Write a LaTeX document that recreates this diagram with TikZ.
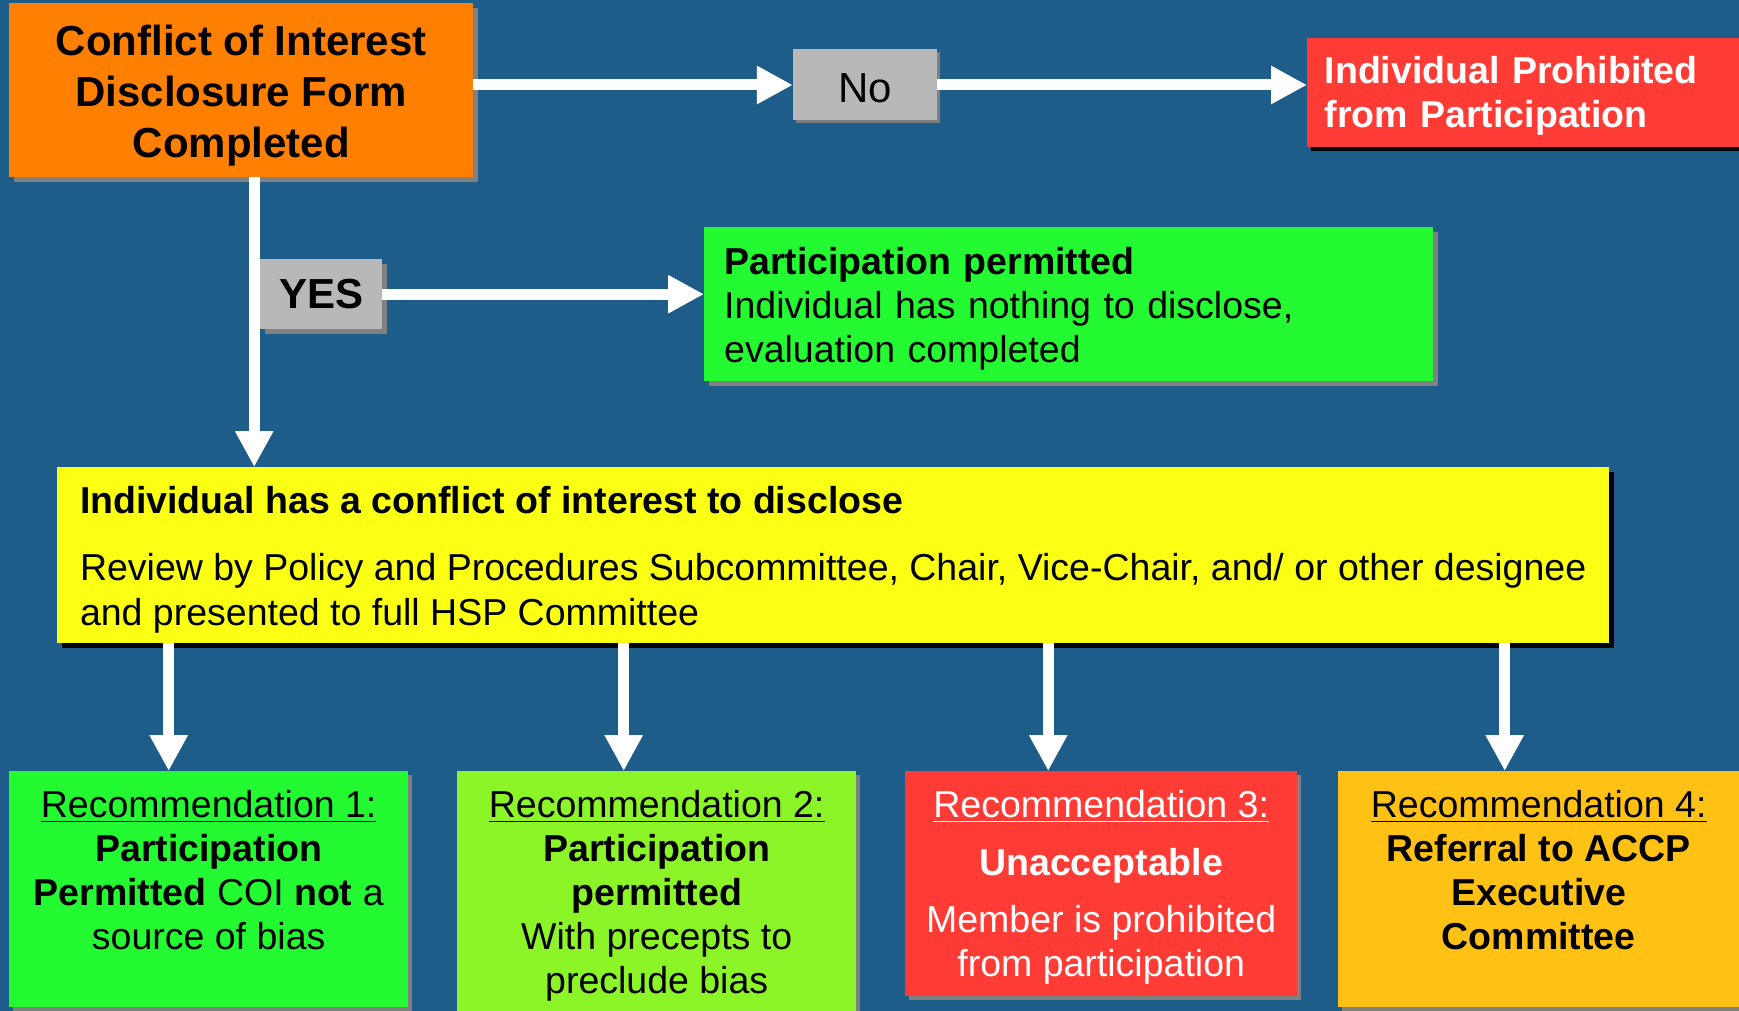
\documentclass[tikz,border=0pt]{standalone}
\usepackage{fontspec}
\setmainfont{Liberation Sans}
\usetikzlibrary{arrows.meta,shadows}
\definecolor{bgblue}{RGB}{30,92,137}
\definecolor{coiorange}{RGB}{255,128,0}
\definecolor{nogray}{RGB}{184,184,184}
\definecolor{shadowgray}{RGB}{128,128,128}
\definecolor{prohibred}{RGB}{255,59,54}
\definecolor{permgreen}{RGB}{35,250,50}
\definecolor{limegreen}{RGB}{140,245,40}
\definecolor{confyellow}{RGB}{250,255,20}
\definecolor{goldbox}{RGB}{255,194,20}
\newcommand{\recul}[1]{\leavevmode\setbox0\hbox{#1}\rlap{\rule[-5pt]{\wd0}{1.8pt}}\box0}
\newcommand{\rectext}[3]{\parbox[c][#1][t]{#2}{\centering\fontsize{37.5}{44}\selectfont\vspace*{19pt}#3}}
\newcommand{\topstrut}[1]{\rule{0pt}{#1}}

\begin{document}
\begin{tikzpicture}[x=1pt,y=-1pt,
		panel/.style={inner sep=0pt, drop shadow={shadow xshift=#1, shadow yshift=-#1, fill=shadowgray, opacity=1}},
		panel/.default=5pt,
		darkpanel/.style={inner sep=0pt, drop shadow={shadow xshift=#1, shadow yshift=-#1, fill=black, opacity=1}},
		darkpanel/.default=5pt,
		flow/.style={white, line width=11pt, -{Triangle[width=36pt,length=36pt]}},
		big/.style={font={\fontsize{42}{51}\selectfont}},
		body/.style={font={\fontsize{37.5}{44}\selectfont}}]
		\useasboundingbox (0,0) rectangle (1739,1011);
		\fill[bgblue] (0,0) rectangle (1739,1011);
		% top row
		\node[panel, fill=coiorange, anchor=north west, minimum width=464pt, minimum height=174pt, align=center, font={\fontsize{42}{51}\selectfont\bfseries}] (coi) at (9,3) {\topstrut{41pt}Conflict of Interest\\ Disclosure Form\\ Completed};
		\node[panel=3pt, fill=nogray, minimum width=144pt, minimum height=71pt, big] (no) at (865,85) {\topstrut{36pt}No};
		\node[darkpanel=4pt, fill=prohibred, text=white, anchor=north west, minimum width=445pt, minimum height=109pt, text width=410pt, align=left, font={\fontsize{37.5}{44}\selectfont\bfseries}] (prohib) at (1307,38) {\topstrut{34pt}Individual Prohibited\\ from Participation};
		\node[panel, fill=nogray, anchor=north west, minimum width=122pt, minimum height=70pt, font={\fontsize{42}{51}\selectfont\bfseries}] (yes) at (260,259) {YES};
		\node[panel, fill=permgreen, anchor=north west, minimum width=729pt, minimum height=154pt, text width=689pt, align=left, body] (perm) at (704,227) {\topstrut{36pt}\textbf{Participation permitted}\\ Individual has nothing to disclose,\\ evaluation completed};
		\node[darkpanel, fill=confyellow, anchor=north west, minimum width=1552pt, minimum height=176pt, align=left, font={\fontsize{37.5}{45}\selectfont}] (conf) at (57,467) {\topstrut{37pt}\textbf{Individual has a conflict of interest to disclose}\\[22pt] Review by Policy and Procedures Subcommittee, Chair, Vice-Chair, and/ or other designee\\ and presented to full HSP Committee};
		% recommendations
		\node[panel=4pt, fill=permgreen, anchor=north west] (rec1) at (9,771) {\rectext{236pt}{399pt}{\recul{Recommendation 1:}\\ \textbf{Participation}\\ \textbf{Permitted} COI \textbf{not} a\\ source of bias}};
		\node[panel=4pt, fill=limegreen, anchor=north west] (rec2) at (457,771) {\rectext{250pt}{399pt}{\recul{Recommendation 2:}\\ \textbf{Participation}\\ \textbf{permitted}\\ With precepts to\\ preclude bias}};
		\node[panel=4pt, fill=prohibred, text=white, anchor=north west] (rec3) at (905,771) {\rectext{225pt}{392pt}{\recul{Recommendation 3:}\\[14pt] \textbf{Unacceptable}\\[13pt] Member is prohibited\\ from participation}};
		\node[panel=4pt, fill=goldbox, anchor=north west] (rec4) at (1338,771) {\rectext{236pt}{401pt}{\recul{Recommendation 4:}\\ \textbf{Referral to ACCP}\\ \textbf{Executive}\\ \textbf{Committee}}};
		\draw[flow] (coi.east |- no.west) -- (no.west);
		\draw[flow] (no.east) -- (no.east -| prohib.west);
		\draw[flow] ([xshift=13pt]coi.south) -- ([xshift=13pt]coi.south |- conf.north);
		\draw[flow] (yes.east) -- (yes.east -| perm.west);
		\foreach \r/\dx in {rec1/-40,rec2/-33,rec3/-53,rec4/-34}{
			\draw[flow] ([xshift=\dx pt]\r.north |- conf.south) -- ([xshift=\dx pt]\r.north);
		}
\end{tikzpicture}
\end{document}
